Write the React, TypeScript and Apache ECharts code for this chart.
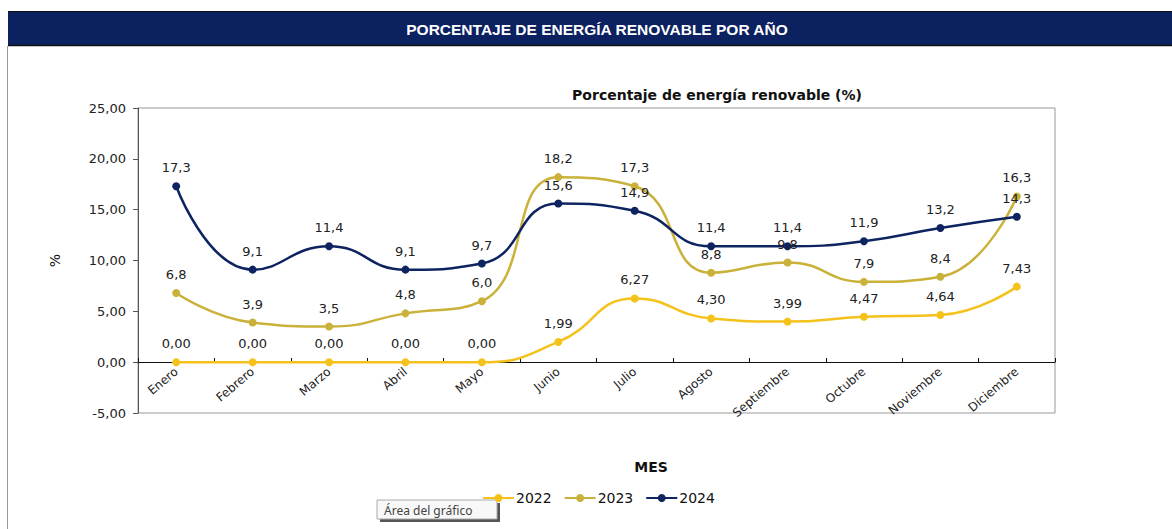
import React, { useEffect, useRef } from "react";
import * as echarts from "echarts";

const months = ["Enero", "Febrero", "Marzo", "Abril", "Mayo", "Junio", "Julio", "Agosto", "Septiembre", "Octubre", "Noviembre", "Diciembre"];
const years = ["2022", "2023", "2024"];
const values2022 = [0, 0, 0, 0, 0, 1.99, 6.27, 4.3, 3.99, 4.47, 4.64, 7.43];
const values2023 = [6.8, 3.9, 3.5, 4.8, 6.0, 18.2, 17.3, 8.8, 9.8, 7.9, 8.4, 16.3];
const values2024 = [17.3, 9.1, 11.4, 9.1, 9.7, 15.6, 14.9, 11.4, 11.4, 11.9, 13.2, 14.3];
const colors = ["#F5C21B", "#C9B13A", "#0E2461"];
const decimals = [2, 1, 1];

const fmt = (v: number, d: number) => v.toFixed(d).replace(".", ",");
const FONT = "DejaVu Sans, Liberation Sans, Arial, sans-serif";

export default function App() {
  const ref = useRef<HTMLDivElement>(null);
  useEffect(() => {
    const chart = echarts.init(ref.current!, null, { renderer: "svg" });
    const data = [values2022, values2023, values2024];
    chart.setOption({
      animation: false,
      backgroundColor: "#ffffff",
      textStyle: { fontFamily: FONT },
      title: {
        text: "Porcentaje de energía renovable (%)",
        left: 712,
        top: 83,
        textAlign: "center",
        textStyle: { fontSize: 14, fontWeight: "bold", color: "#111", fontFamily: FONT },
      },
      graphic: [
        { type: "rect", shape: { x: 8, y: 11, width: 1164, height: 35 }, style: { fill: "#0B2160" } },
        { type: "line", shape: { x1: 8, y1: 45.5, x2: 1172, y2: 45.5 }, style: { stroke: "#111", lineWidth: 1.5 } },
        { type: "line", shape: { x1: 8, y1: 11.5, x2: 1172, y2: 11.5 }, style: { stroke: "#111", lineWidth: 1 } },
        {
          type: "text",
          x: 597,
          y: 29,
          style: {
            text: "PORCENTAJE DE ENERGÍA RENOVABLE POR AÑO",
            fill: "#ffffff",
            fontSize: 15.5,
            fontWeight: "bold",
            fontFamily: "Liberation Sans, Arial, sans-serif",
            align: "center",
            verticalAlign: "middle",
          },
        },
        { type: "line", shape: { x1: 7.5, y1: 46, x2: 7.5, y2: 529 }, style: { stroke: "#999", lineWidth: 1 } },
        {
          type: "text",
          x: 651,
          y: 467,
          style: { text: "MES", fill: "#111", fontSize: 14, fontWeight: "bold", align: "center", verticalAlign: "middle", fontFamily: FONT },
        },
        { type: "rect", shape: { x: 380, y: 503, width: 120, height: 19 }, style: { fill: "#555" } },
        { type: "rect", shape: { x: 377, y: 500, width: 120, height: 19 }, style: { fill: "#f8f8f8", stroke: "#aaa", lineWidth: 1 } },
        {
          type: "text",
          x: 384,
          y: 510,
          style: { text: "Área del gráfico", fill: "#444", fontSize: 12, verticalAlign: "middle", fontFamily: "Noto Sans, sans-serif" },
        },
      ],
      legend: {
        data: years,
        left: 477,
        top: 486,
        itemWidth: 31,
        itemHeight: 10,
        itemGap: 12,
        textStyle: { fontSize: 14, color: "#111", fontFamily: FONT, padding: [0, 0, 0, -3] },
      },
      grid: { left: 138, top: 108, right: 117, bottom: 116, show: true, borderColor: "#999", borderWidth: 1 },
      xAxis: {
        type: "category",
        data: months,
        boundaryGap: true,
        offset: -51,
        axisLine: { onZero: false, lineStyle: { color: "#111", width: 1 } },
        axisTick: { show: true, inside: true, length: 4, lineStyle: { color: "#111" } },
        axisLabel: { rotate: 40, fontSize: 12, color: "#222", margin: 8, fontFamily: FONT },
        splitLine: { show: false },
      },
      yAxis: {
        type: "value",
        min: -5,
        max: 25,
        interval: 5,
        name: "%",
        nameLocation: "middle",
        nameGap: 76,
        nameRotate: 90,
        nameTextStyle: { fontSize: 14, color: "#111", fontFamily: FONT },
        axisLine: { show: true, lineStyle: { color: "#555" } },
        axisTick: { show: true, length: 5, lineStyle: { color: "#555" } },
        axisLabel: { fontSize: 13, color: "#222", formatter: (v: number) => fmt(v, 2), margin: 12, fontFamily: FONT },
        splitLine: { show: false },
      },
      series: years.map((y, i) => ({
        name: y,
        type: "line",
        smooth: true,
        data: data[i],
        color: colors[i],
        symbol: "circle",
        symbolSize: 8,
        lineStyle: { width: 2.5, color: colors[i] },
        itemStyle: { color: colors[i] },
        label: {
          show: true,
          position: "top",
          distance: 8,
          fontSize: 13,
          color: "#222",
          fontFamily: FONT,
          formatter: (p: any) => fmt(p.value, decimals[i]),
        },
      })),
    });
    return () => chart.dispose();
  }, []);
  return <div ref={ref} style={{ position: "absolute", left: 0, top: 0, width: 1172, height: 529 }} />;
}
